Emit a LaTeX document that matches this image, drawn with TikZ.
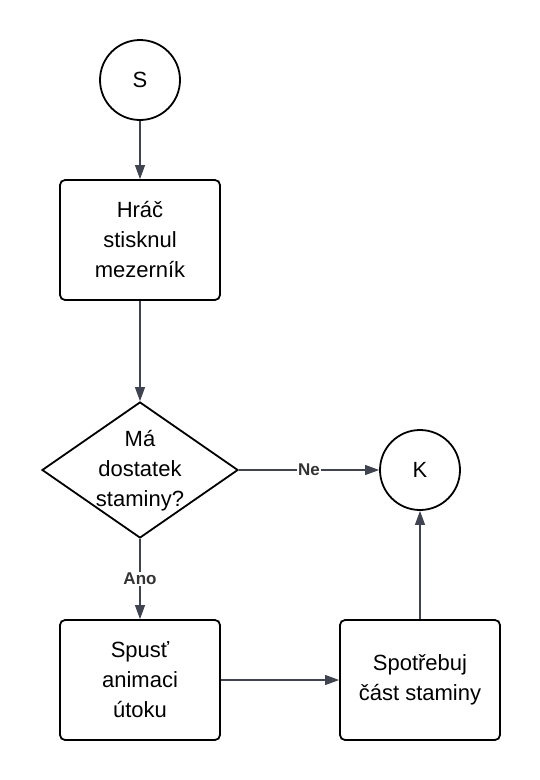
\documentclass[tikz,border=0pt]{standalone}
\usepackage{fontspec}
\setmainfont{Liberation Sans}
\usetikzlibrary{shapes.geometric, arrows.meta, positioning}
\definecolor{edgegray}{HTML}{3F4450}
\definecolor{labelgray}{HTML}{333333}

\begin{document}
\begin{tikzpicture}[x=1pt, y=-1pt]
\tikzset{
  txt/.style = {font=\fontsize{22}{30}\selectfont, align=center},
  term/.style = {txt, circle, draw, line width=1.8pt, minimum size=80pt, inner sep=0pt},
  stepbox/.style = {txt, rectangle, draw, line width=1.8pt, rounded corners=5pt,
                    minimum width=160pt, minimum height=120pt, inner sep=0pt},
  decide/.style = {txt, diamond, draw, line width=1.8pt, aspect=1.44,
                   minimum width=196pt, minimum height=136pt, inner sep=0pt},
  edge/.style = {-{Triangle[length=14pt, width=10pt]}, draw=edgegray, line width=1.1pt},
  elabel/.style = {font=\fontsize{17}{20}\selectfont\bfseries, text=labelgray,
                   fill=white, inner sep=1pt}
}
\useasboundingbox (0,0) rectangle (540,780);
            % vertices
	\node[term] (s) at (140,80) {S};
	\node[stepbox] (hrac) at (140,240) {Hráč\\stisknul\\mezerník};
	\node[decide] (dost) at (140,470) {\makebox[0pt]{\begin{tabular}{@{}c@{}}Má\\dostatek\\staminy?\end{tabular}}};
	\node[term] (k) at (420,470) {K};
	\node[stepbox] (anim) at (140,680) {Spusť\\animaci\\útoku};
	\node[stepbox] (spot) at (420,680) {Spotřebuj\\část staminy};
            %edges
	\draw[edge] (s) to (hrac);
	\draw[edge] (hrac) to (dost);
	\draw[edge] (dost) to node[elabel] {Ne} (k);
	\draw[edge] (dost) to node[elabel] {Ano} (anim);
	\draw[edge] (anim) to (spot);
	\draw[edge] (spot) to (k);
\end{tikzpicture}
\end{document}
